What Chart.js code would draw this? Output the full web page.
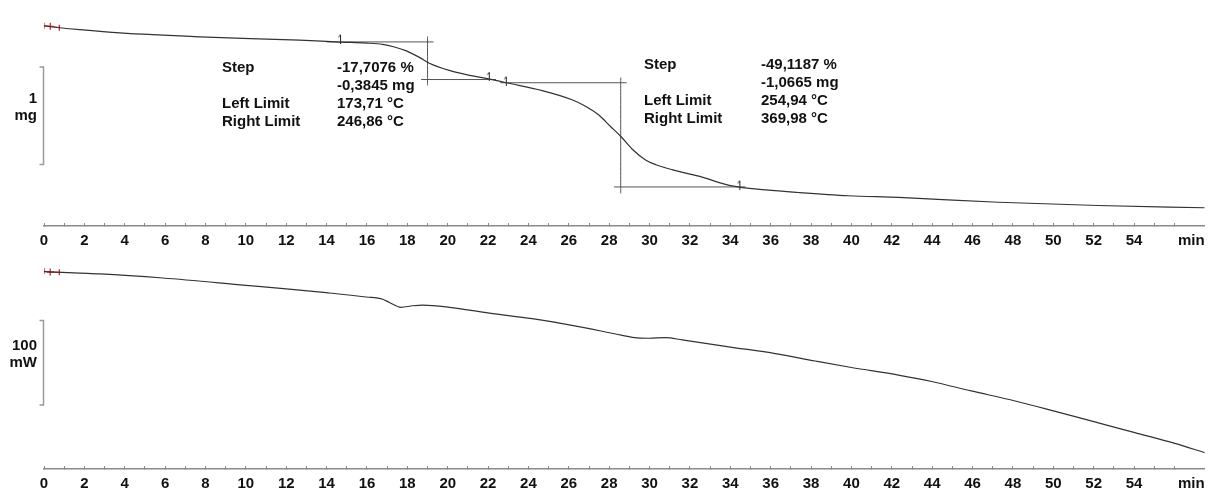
<!DOCTYPE html>
<html>
<head>
<meta charset="utf-8">
<script src="https://cdn.jsdelivr.net/npm/chart.js@4.4.0/dist/chart.umd.min.js"></script>
<style>
  body { margin: 0; background: #fff; }
  #wrap { position: relative; width: 1210px; height: 492px; background: #fff; }
  canvas { position: absolute; left: 0; }
  #tga { top: 0; }
  #dsc { top: 250px; }
</style>
</head>
<body>
<div id="wrap">
  <canvas id="tga" width="1210" height="250"></canvas>
  <canvas id="dsc" width="1210" height="242"></canvas>
</div>
<script>
// x axis labels (minutes), only even ones get text
const tickLabels = ['0','2','4','6','8','10','12','14','16','18','20','22','24','26','28','30','32','34','36','38','40','42','44','46','48','50','52','54'];
const axisUnit = 'min';

// TGA curve, mass in mg vs time in min
const tgaTime = [0, 0.79, 1.78, 3.76, 7.72, 12.66, 14.69, 15.97, 16.77, 17.36, 17.95, 18.6, 19.09, 20.08, 20.92, 21.96, 22.9, 24.68, 26.16, 26.85, 27.5, 28.04, 28.59, 29.13, 29.82, 30.32, 31.11, 32.44, 34.08, 35.76, 37.39, 39.86, 42.33, 47.28, 52.23, 57.5];
const tgaMass = [2.171, 2.151, 2.131, 2.098, 2.058, 2.024, 2.004, 1.994, 1.981, 1.954, 1.914, 1.848, 1.788, 1.714, 1.671, 1.631, 1.588, 1.508, 1.414, 1.345, 1.255, 1.145, 1.035, 0.91, 0.795, 0.748, 0.698, 0.631, 0.531, 0.491, 0.464, 0.431, 0.414, 0.364, 0.331, 0.308];

// DSC curve, heat flow in mW vs time in min
const dscTime = [0, 1.78, 2.77, 5.88, 10.0, 12.0, 13.98, 15.96, 16.78, 17.11, 17.69, 18.26, 18.76, 20.08, 22.06, 24.18, 26.16, 28.32, 29.14, 29.97, 30.79, 31.62, 34.09, 36.23, 38.2, 40.0, 42.33, 43.97, 45.94, 48.11, 50.1, 52.23, 54.04, 56.02, 57.5];
const dscFlow = [0, -1.8, -2.7, -7.6, -16.2, -20.4, -24.9, -30.0, -32.7, -36.5, -42.2, -40.4, -39.6, -42.2, -49.2, -55.7, -63.5, -73.8, -77.7, -78.8, -78.0, -80.8, -89.5, -96.9, -105.7, -113.4, -122.3, -129.9, -141.1, -153.0, -165.3, -178.8, -190.4, -203.1, -214.1];

// step evaluation construction lines [min, mg]
const step1Lines = [
  [[14.0, 2.006], [19.3, 2.006]],
  [[19.0, 2.061], [19.0, 1.561]],
  [[18.68, 1.621], [22.39, 1.621]]
];
const step2Lines = [
  [[22.6, 1.588], [28.87, 1.588]],
  [[28.57, 1.641], [28.57, 0.454]],
  [[28.24, 0.521], [34.75, 0.521]]
];
const limitMarks = [[14.69, 2.04], [22.06, 1.655], [22.9, 1.61], [34.47, 0.545]];
const tgaStartMarks = [[0, 2.171], [0.31, 2.166], [0.76, 2.152]];
const dscStartMarks = [[0, 0.6], [0.31, -0.6], [0.76, -0.9]];

// result texts
const stepNames = ['Step', '', 'Left Limit', 'Right Limit'];
const step1Values = ['-17,7076 %', '-0,3845 mg', '173,71 °C', '246,86 °C'];
const step2Values = ['-49,1187 %', '-1,0665 mg', '254,94 °C', '369,98 °C'];

// scale bars
const tgaBar = [1.75, 0.75];
const dscBar = [-57.7, -157.7];

const FONT = 'bold 15px "Liberation Sans", Arial, sans-serif';
const pts = (xs, ys) => xs.map((x, i) => ({ x: x, y: ys[i] }));
const pairs = arr => arr.map(p => ({ x: p[0], y: p[1] }));

// little limit flag symbol
const flag = document.createElement('canvas');
flag.width = 7; flag.height = 10;
const fc = flag.getContext('2d');
fc.strokeStyle = '#222'; fc.lineWidth = 1;
fc.beginPath(); fc.moveTo(3.5, 1); fc.lineTo(3.5, 10); fc.moveTo(3.5, 1); fc.lineTo(1.5, 3.5); fc.stroke();

function xAxis(h) {
  return {
    type: 'linear', min: 0, max: 57.5,
    grid: { drawOnChartArea: false, drawTicks: true, tickLength: -3, color: '#8a8a8a', lineWidth: 1 },
    border: { color: '#8a8a8a', width: 1.5 },
    ticks: {
      stepSize: 1, autoSkip: false, maxRotation: 0, padding: 9, color: '#111',
      font: { family: '"Liberation Sans", Arial, sans-serif', size: 15, weight: 'bold' },
      callback: v => tickLabels.includes(String(v)) ? String(v) : ''
    },
    afterBuildTicks: s => { s.ticks = s.ticks.filter(t => Number.isInteger(t.value)); },
    afterFit: s => { s.height = h; }
  };
}

function lineSet(data, color, width) {
  return { data: data, showLine: true, borderColor: color, borderWidth: width, pointRadius: 0, cubicInterpolationMode: 'monotone' };
}

function startMarks(data) {
  return {
    data: pairs(data), showLine: true, borderColor: '#d62b2b', borderWidth: 1,
    pointStyle: ['line', 'cross', 'line'], pointRotation: [90, 0, 90],
    pointRadius: [3, 3.5, 3], pointBorderColor: '#d62b2b', pointBorderWidth: 1.3
  };
}

// draws scale bar, unit label and step texts
const decor = {
  id: 'decor',
  afterDraw(chart, args, opts) {
    const ctx = chart.ctx, area = chart.chartArea, y = chart.scales.y, x = chart.scales.x;
    ctx.save();
    const x0 = area.left - 0.5;
    const yt = y.getPixelForValue(opts.bar[0]), yb = y.getPixelForValue(opts.bar[1]);
    ctx.strokeStyle = '#9a9a9a'; ctx.lineWidth = 1.5;
    ctx.beginPath();
    ctx.moveTo(x0 - 4, yt); ctx.lineTo(x0, yt); ctx.lineTo(x0, yb); ctx.lineTo(x0 - 4, yb);
    ctx.stroke();
    ctx.fillStyle = '#111'; ctx.font = FONT; ctx.textBaseline = 'middle'; ctx.textAlign = 'right';
    const mid = (yt + yb) / 2;
    ctx.fillText(opts.num, area.left - 7, mid - 17);
    ctx.fillText(opts.unit, area.left - 7, mid);
    ctx.fillText(axisUnit, area.right, x.top + 15);
    ctx.textAlign = 'left';
    (opts.blocks || []).forEach(b => {
      b.rows.forEach((ry, i) => {
        ctx.fillText(stepNames[i], b.nameX, ry);
        ctx.fillText(b.values[i], b.valueX, ry);
      });
    });
    ctx.restore();
  }
};

const common = {
  responsive: false, animation: false, devicePixelRatio: 1,
  layout: { padding: { left: 44, right: 3.3, top: 0, bottom: 0 } },
  plugins: { legend: { display: false }, tooltip: { enabled: false } }
};

new Chart(document.getElementById('tga'), {
  type: 'scatter',
  data: {
    datasets: [
      lineSet(pts(tgaTime, tgaMass), '#333', 1.2),
      ...step1Lines.concat(step2Lines).map(l => lineSet(pairs(l), '#555', 1)),
      { data: pairs(limitMarks), pointStyle: flag, pointRadius: 4 },
      startMarks(tgaStartMarks)
    ]
  },
  options: Object.assign({}, common, {
    scales: {
      x: xAxis(24),
      y: { display: false, min: 0.121, max: 2.381 }
    },
    plugins: Object.assign({}, common.plugins, {
      decor: {
        bar: tgaBar, num: '1', unit: 'mg',
        blocks: [
          { nameX: 222, valueX: 337, rows: [67.5, 85.5, 103.5, 121.5], values: step1Values },
          { nameX: 644, valueX: 761, rows: [65, 83, 101, 119], values: step2Values }
        ]
      }
    })
  }),
  plugins: [decor]
});

new Chart(document.getElementById('dsc'), {
  type: 'scatter',
  data: {
    datasets: [
      lineSet(pts(dscTime, dscFlow), '#333', 1.2),
      startMarks(dscStartMarks)
    ]
  },
  options: Object.assign({}, common, {
    scales: {
      x: xAxis(23),
      y: { display: false, min: -233.4, max: 19.27 }
    },
    plugins: Object.assign({}, common.plugins, {
      decor: { bar: dscBar, num: '100', unit: 'mW' }
    })
  }),
  plugins: [decor]
});
</script>
</body>
</html>
